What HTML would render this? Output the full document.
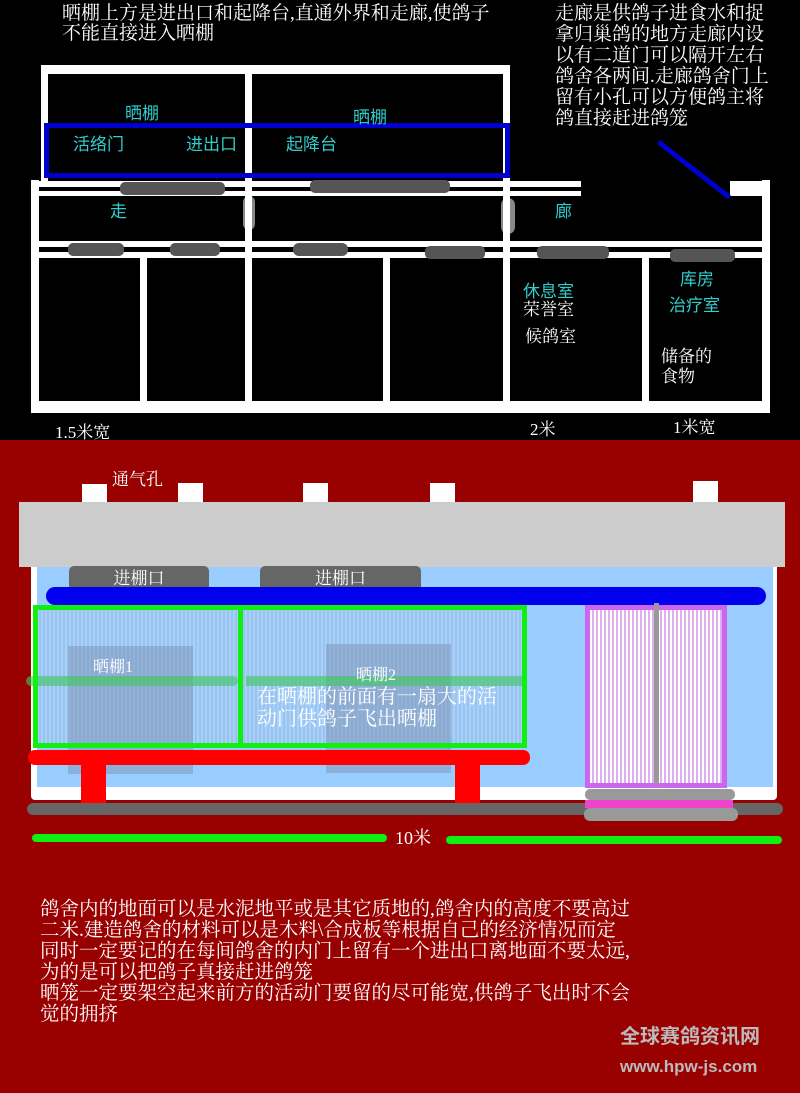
<!DOCTYPE html>
<html><head><meta charset="utf-8"><style>
body{margin:0;width:800px;height:1093px;position:relative;overflow:hidden;background:#990000;font-family:"Liberation Serif","Noto Serif CJK SC","Noto Sans CJK SC",serif}
div{position:absolute;box-sizing:border-box}
.w{background:#fff}.g{background:#555}
.c{color:#33cccc;font-size:17px;font-family:"Liberation Sans","Noto Sans CJK SC",sans-serif}
.t{color:#fff;font-size:17px;line-height:20px}
</style></head><body>
<div style="left:0;top:0;width:800px;height:440px;background:#000"></div>
<div class="t" style="left:62px;top:4px;width:520px;font-size:19px;line-height:20px;white-space:nowrap">晒棚上方是进出口和起降台,直通外界和走廊,使鸽子<br>不能直接进入晒棚</div>
<div class="t" style="left:555px;top:3px;width:245px;font-size:19px;line-height:21px;white-space:nowrap">走廊是供鸽子进食水和捉<br>拿归巢鸽的地方走廊内设<br>以有二道门可以隔开左右<br>鸽舍各两间.走廊鸽舍门上<br>留有小孔可以方便鸽主将<br>鸽直接赶进鸽笼</div>
<!-- top box -->
<div class="w" style="left:41px;top:65px;width:469px;height:9px"></div>
<div class="w" style="left:41px;top:65px;width:7px;height:120px"></div>
<div class="w" style="left:245px;top:65px;width:7px;height:120px"></div>
<div class="w" style="left:503px;top:65px;width:7px;height:120px"></div>
<div style="left:44px;top:123px;width:466px;height:55px;border:5px solid #0000cc"></div>
<div class="c" style="left:125px;top:99px">晒棚</div>
<div class="c" style="left:353px;top:103px">晒棚</div>
<div class="c" style="left:73px;top:130px">活络门</div>
<div class="c" style="left:186px;top:130px">进出口</div>
<div class="c" style="left:286px;top:130px">起降台</div>
<!-- corridor -->
<div class="w" style="left:31px;top:181px;width:550px;height:6px"></div>
<div class="w" style="left:31px;top:191px;width:550px;height:5px"></div>
<div class="w" style="left:730px;top:181px;width:40px;height:15px"></div>
<div class="g" style="left:120px;top:182px;width:105px;height:13px;border-radius:5px"></div>
<div class="g" style="left:310px;top:180px;width:140px;height:13px;border-radius:5px"></div>
<div style="left:243px;top:196px;width:12px;height:34px;background:#888;border-radius:6px"></div>
<div style="left:501px;top:198px;width:14px;height:36px;background:#888;border-radius:7px"></div>
<div class="c" style="left:110px;top:197px">走</div>
<div class="c" style="left:555px;top:197px">廊</div>
<div class="w" style="left:31px;top:241px;width:738px;height:6px"></div>
<div class="w" style="left:31px;top:252px;width:738px;height:6px"></div>
<div class="g" style="left:68px;top:243px;width:56px;height:13px;border-radius:5px"></div>
<div class="g" style="left:170px;top:243px;width:50px;height:13px;border-radius:5px"></div>
<div class="g" style="left:293px;top:243px;width:55px;height:13px;border-radius:6px"></div>
<div class="g" style="left:425px;top:246px;width:60px;height:13px;border-radius:5px"></div>
<div class="g" style="left:537px;top:246px;width:72px;height:13px;border-radius:5px"></div>
<div class="g" style="left:670px;top:249px;width:65px;height:13px;border-radius:5px"></div>
<div class="w" style="left:31px;top:180px;width:8px;height:233px"></div>
<div class="w" style="left:762px;top:180px;width:8px;height:233px"></div>
<div class="w" style="left:140px;top:258px;width:7px;height:145px"></div>
<div class="w" style="left:245px;top:180px;width:7px;height:223px"></div>
<div class="w" style="left:383px;top:258px;width:7px;height:145px"></div>
<div class="w" style="left:503px;top:180px;width:7px;height:223px"></div>
<div class="w" style="left:642px;top:258px;width:7px;height:145px"></div>
<div class="w" style="left:31px;top:401px;width:739px;height:12px"></div>
<div style="left:660px;top:140px;width:90px;height:5px;background:#0000cc;transform:rotate(38deg);transform-origin:0 0"></div>
<div class="c" style="left:523px;top:277px">休息室</div>
<div class="t" style="left:523px;top:300px">荣誉室</div>
<div class="t" style="left:525px;top:327px">候鸽室</div>
<div class="c" style="left:680px;top:265px">库房</div>
<div class="c" style="left:669px;top:291px">治疗室</div>
<div class="t" style="left:661px;top:347px">储备的<br>食物</div>
<div class="t" style="left:55px;top:423px">1.5米宽</div>
<div class="t" style="left:530px;top:420px">2米</div>
<div class="t" style="left:673px;top:418px">1米宽</div>
<!-- bottom -->
<div class="t" style="left:112px;top:470px">通气孔</div>
<div class="w" style="left:82px;top:484px;width:25px;height:24px"></div>
<div class="w" style="left:178px;top:483px;width:25px;height:24px"></div>
<div class="w" style="left:303px;top:483px;width:25px;height:24px"></div>
<div class="w" style="left:430px;top:483px;width:25px;height:24px"></div>
<div class="w" style="left:693px;top:481px;width:25px;height:24px"></div>
<div style="left:31px;top:560px;width:746px;height:240px;background:#fff;border-radius:4px"></div>
<div style="left:37px;top:565px;width:736px;height:222px;background:#99ccff"></div>
<div style="left:19px;top:502px;width:766px;height:65px;background:#cccccc"></div>
<div style="left:69px;top:566px;width:140px;height:26px;background:#666;border-radius:5px;color:#fff;font-size:17px;text-align:center;line-height:26px">进棚口</div>
<div style="left:260px;top:566px;width:161px;height:26px;background:#666;border-radius:5px;color:#fff;font-size:17px;text-align:center;line-height:26px">进棚口</div>
<div style="left:46px;top:587px;width:720px;height:18px;background:#0000ee;border-radius:9px"></div>
<div style="left:33px;top:605px;width:494px;height:143px;background:repeating-linear-gradient(90deg,#a8d0f8 0 2px,#99c4f0 2px 4px)"></div>
<div style="left:68px;top:646px;width:125px;height:128px;background:rgba(120,140,170,.45)"></div>
<div style="left:326px;top:644px;width:125px;height:129px;background:rgba(120,140,170,.45)"></div>
<div style="left:26px;top:676px;width:212px;height:10px;background:rgba(60,200,90,.6);border-radius:5px"></div>
<div style="left:246px;top:676px;width:276px;height:10px;background:rgba(60,200,90,.6)"></div>
<div style="left:33px;top:605px;width:210px;height:143px;border:5px solid #11ee11"></div>
<div style="left:238px;top:605px;width:289px;height:143px;border:5px solid #11ee11"></div>
<div style="left:93px;top:654px;color:#fff;font-size:16px">晒棚1</div>
<div style="left:356px;top:662px;color:#fff;font-size:16px">晒棚2</div>
<div class="t" style="left:257px;top:686px;font-size:20px;line-height:22px;white-space:nowrap">在晒棚的前面有一扇大的活<br>动门供鸽子飞出晒棚</div>
<div style="left:28px;top:750px;width:502px;height:15px;background:#ff0000;border-radius:7px"></div>
<div style="left:81px;top:763px;width:25px;height:40px;background:#ff0000"></div>
<div style="left:455px;top:763px;width:25px;height:40px;background:#ff0000"></div>
<div style="left:585px;top:605px;width:142px;height:183px;border:5px solid #cc66ee;background:repeating-linear-gradient(90deg,#fff 0 2px,#dcb0ee 2px 4px)"></div>
<div style="left:654px;top:603px;width:5px;height:182px;background:#999"></div>
<div style="left:27px;top:803px;width:756px;height:12px;background:#666;border-radius:6px"></div>
<div style="left:585px;top:789px;width:150px;height:11px;background:#999;border-radius:5px"></div>
<div style="left:585px;top:800px;width:148px;height:8px;background:#ee44cc"></div>
<div style="left:584px;top:808px;width:154px;height:13px;background:#999;border-radius:6px"></div>
<div style="left:32px;top:834px;width:355px;height:8px;background:#11ee11;border-radius:4px"></div>
<div style="left:446px;top:836px;width:336px;height:8px;background:#11ee11;border-radius:4px"></div>
<div class="t" style="left:395px;top:828px;font-size:18px">10米</div>
<div class="t" style="left:40px;top:899px;line-height:21px;font-size:19.5px;width:760px;white-space:nowrap">鸽舍内的地面可以是水泥地平或是其它质地的,鸽舍内的高度不要高过<br>二米.建造鸽舍的材料可以是木料\合成板等根据自己的经济情况而定<br>同时一定要记的在每间鸽舍的内门上留有一个进出口离地面不要太远,<br>为的是可以把鸽子真接赶进鸽笼<br>晒笼一定要架空起来前方的活动门要留的尽可能宽,供鸽子飞出时不会<br>觉的拥挤</div>
<div style="left:620px;top:1020px;color:#bbb;font-size:20px;font-weight:bold;font-family:'Liberation Sans','Noto Sans CJK SC',sans-serif">全球赛鸽资讯网</div>
<div style="left:620px;top:1057px;color:#bbb;font-size:17px;font-weight:bold;font-family:'Liberation Sans',sans-serif">www.hpw-js.com</div>
</body></html>
